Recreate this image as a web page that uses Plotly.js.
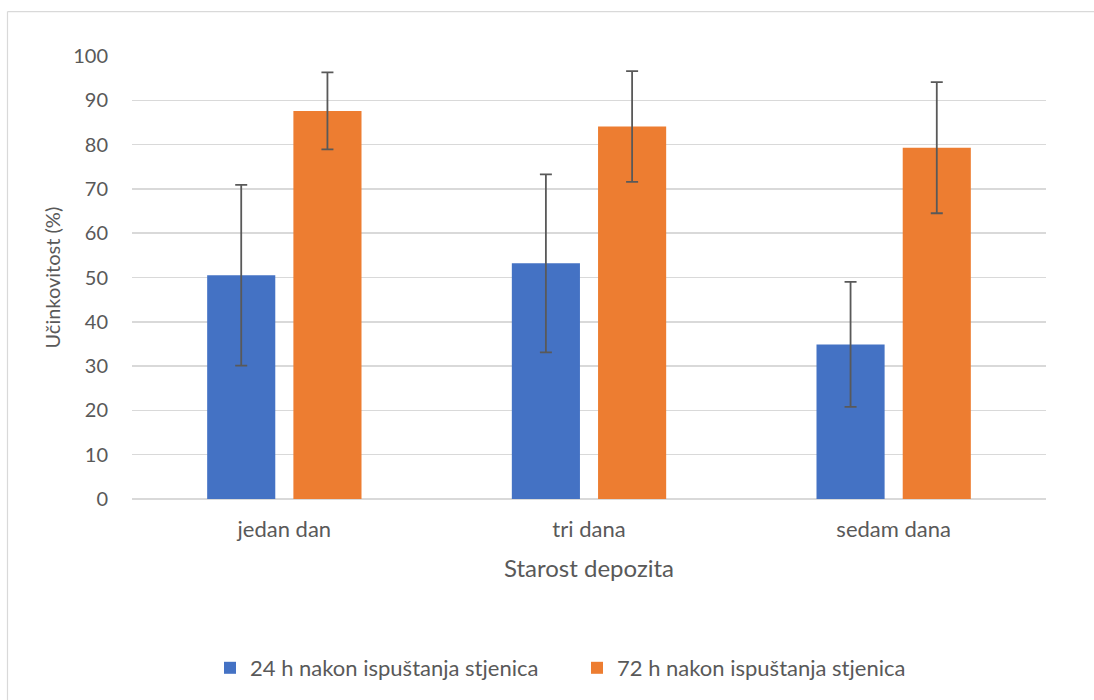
<!DOCTYPE html>
<html>
<head>
<meta charset="utf-8">
<script src="https://cdn.plot.ly/plotly-3.0.1.min.js"></script>
<style>
  html, body { margin: 0; padding: 0; background: #ffffff; }
  #chart { width: 1094px; height: 700px; }
</style>
</head>
<body>
<div id="chart"></div>
<script>
// Categories (x axis)
const categories = ["jedan dan", "tri dana", "sedam dana"];

// Series names
const seriesNames = ["24 h nakon ispuštanja stjenica", "72 h nakon ispuštanja stjenica"];

// Mean efficacy values (%)
const values24h = [50.5, 53.2, 34.9];
const values72h = [87.6, 84.1, 79.3];

// Error bar half-widths (%)
const errors24h = [20.4, 20.1, 14.1];
const errors72h = [8.7, 12.5, 14.8];

// Y-axis ticks
const yTicks = [0, 10, 20, 30, 40, 50, 60, 70, 80, 90, 100];

// Axis titles
const xTitle = "Starost depozita";
const yTitle = "Učinkovitost (%)";

const FONT = "Lato, 'Open Sans', sans-serif";
const TEXT = "#595959";

const errStyle = { type: "data", symmetric: true, color: "#595959", thickness: 1.8, width: 6 };

const traces = [
  {
    type: "bar",
    name: seriesNames[0],
    x: categories,
    y: values24h,
    marker: { color: "#4472C4" },
    error_y: Object.assign({ array: errors24h }, errStyle)
  },
  {
    type: "bar",
    name: seriesNames[1],
    x: categories,
    y: values72h,
    marker: { color: "#ED7D31" },
    error_y: Object.assign({ array: errors72h }, errStyle)
  }
];

// plot area in px: x 132..1046, y 56..500
const W = 1094, H = 700, L = 132, R = 48, T = 56, B = 200;
const pw = W - L - R, ph = H - T - B;
const px = p => (p - L) / pw;
const py = p => (H - B - p) / ph;

const layout = {
  width: W,
  height: H,
  margin: { l: L, r: R, t: T, b: B },
  paper_bgcolor: "#ffffff",
  plot_bgcolor: "#ffffff",
  font: { family: FONT, color: TEXT, size: 18 },
  barmode: "group",
  bargap: 0.434,
  bargroupgap: 0.21,
  showlegend: true,
  legend: {
    orientation: "h",
    x: px(210), xanchor: "left",
    y: py(668), yanchor: "middle",
    font: { family: FONT, color: TEXT, size: 22 },
    itemwidth: 30,
    entrywidth: 322,
    entrywidthmode: "pixels",
    traceorder: "normal"
  },
  xaxis: {
    type: "category",
    showgrid: false,
    showline: false,
    zeroline: false,
    ticks: "",
    tickfont: { family: FONT, color: TEXT, size: 22 },
    ticklabelstandoff: 15,
    title: { text: xTitle, font: { family: FONT, color: TEXT, size: 24 }, standoff: 19 }
  },
  yaxis: {
    range: [0, 100],
    tickmode: "array",
    tickvals: yTicks,
    ticktext: yTicks.map(String),
    showgrid: true,
    gridcolor: "#D9D9D9",
    gridwidth: 1.5,
    zeroline: true,
    zerolinecolor: "#D9D9D9",
    zerolinewidth: 1.5,
    showline: false,
    ticks: "",
    tickfont: { family: FONT, color: TEXT, size: 20 },
    ticklabelstandoff: 23
  },
  annotations: [
    {
      text: yTitle,
      xref: "paper", yref: "paper",
      x: px(51), y: 0.5,
      xanchor: "center", yanchor: "middle",
      textangle: -90,
      showarrow: false,
      font: { family: FONT, color: TEXT, size: 20 }
    }
  ],
  shapes: [
    { type: "line", xref: "paper", yref: "paper", x0: px(7.5), x1: px(1100), y0: py(11.5), y1: py(11.5), line: { color: "#D9D9D9", width: 1.2 } },
    { type: "line", xref: "paper", yref: "paper", x0: px(7.5), x1: px(7.5), y0: py(11.5), y1: py(710), line: { color: "#D9D9D9", width: 1.2 } }
  ]
};

Plotly.newPlot("chart", traces, layout, { displayModeBar: false, staticPlot: true });
</script>
</body>
</html>
